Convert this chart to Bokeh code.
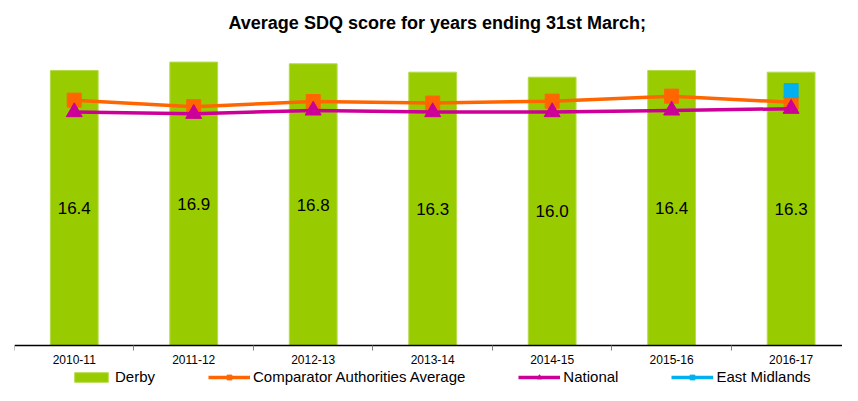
from bokeh.plotting import figure
from bokeh.models import Range1d, FixedTicker, ColumnDataSource, Legend, LegendItem, LabelSet, LinearAxis
from bokeh.core.properties import value
from bokeh.embed import file_html
from bokeh.resources import INLINE

years = ["2010-11", "2011-12", "2012-13", "2013-14", "2014-15", "2015-16", "2016-17"]
derby = [16.4, 16.9, 16.8, 16.3, 16.0, 16.4, 16.3]
comparator = [14.63, 14.24, 14.55, 14.46, 14.57, 14.87, 14.5]
national = [13.92, 13.82, 14.02, 13.92, 13.92, 14.02, 14.12]
em_years = ["2016-17"]
east_midlands = [15.2]

FONT = "Liberation Sans"
GREEN = "#99CC00"
ORANGE = "#FF6600"
MAGENTA = "#CC0099"
BLUE = "#00B0F0"

xpos = [i + 0.5 for i in range(len(years))]
src = ColumnDataSource(dict(
    x=xpos, derby=derby, comp=comparator, nat=national,
    mid=[v / 2 for v in derby], lab=["%.1f" % v for v in derby],
))
em_src = ColumnDataSource(dict(x=[years.index(y) + 0.5 for y in em_years], v=east_midlands))

p = figure(width=842, height=385, output_backend="svg", toolbar_location=None,
           x_range=Range1d(0, 6.93), y_range=Range1d(-2.39, 18.07),
           x_axis_location=None, y_axis_location=None,
           min_border_left=14, min_border_right=0, min_border_top=0, min_border_bottom=0,
           title="Average SDQ score for years ending 31st March;")
p.outline_line_color = None
p.xgrid.visible = False
p.ygrid.visible = False

p.title.align = "left"
p.title.offset = 214
p.title.text_font = FONT
p.title.text_font_size = "18px"
p.title.text_font_style = "bold"
p.title.text_color = "black"
p.title.standoff = 20

bars = p.vbar(x="x", top="derby", width=0.4, source=src, fill_color=GREEN, line_color="#B5DA4A", line_width=1)
labels = LabelSet(x="x", y="mid", text="lab", source=src, text_align="center", text_baseline="middle",
                  text_font=value(FONT), text_font_size="17px", text_color="black")
p.add_layout(labels)

cl = p.line(x="x", y="comp", source=src, line_color=ORANGE, line_width=3.5)
cm = p.scatter(x="x", y="comp", source=src, marker="square", size=14, fill_color=ORANGE, line_color=ORANGE)
nl = p.line(x="x", y="nat", source=src, line_color=MAGENTA, line_width=3.5)
nm = p.scatter(x="x", y="nat", source=src, marker="triangle", size=16, fill_color=MAGENTA, line_color=MAGENTA)
el = p.line(x="x", y="v", source=em_src, line_color=BLUE, line_width=3.5)
em = p.scatter(x="x", y="v", source=em_src, marker="square", size=14, fill_color=BLUE, line_color=BLUE)

ax = LinearAxis(fixed_location=0)
ax.ticker = FixedTicker(ticks=xpos, minor_ticks=list(range(len(years) + 1)))
ax.major_label_overrides = {x: y for x, y in zip(xpos, years)}
ax.major_tick_line_color = None
ax.major_tick_out = 5
ax.major_tick_in = 0
ax.minor_tick_line_color = "#808080"
ax.minor_tick_out = 5
ax.minor_tick_in = 0
ax.axis_line_color = "black"
ax.axis_line_width = 1.5
ax.major_label_standoff = 5
ax.major_label_text_font = FONT
ax.major_label_text_font_size = "12px"
ax.major_label_text_color = "black"
p.add_layout(ax, "below")

legend = Legend(items=[
    LegendItem(label="Derby", renderers=[bars]),
    LegendItem(label="Comparator Authorities Average", renderers=[cl, cm]),
    LegendItem(label="National", renderers=[nl, nm]),
    LegendItem(label="East Midlands", renderers=[el, em]),
], orientation="horizontal", location=(56, 0),
    label_text_font=FONT, label_text_font_size="15px", label_text_color="black",
    glyph_width=42, glyph_height=12, spacing=53, label_standoff=3,
    padding=0, margin=0, border_line_color=None, background_fill_alpha=0)
p.add_layout(legend)

open("out.html", "w").write(file_html(p, INLINE))
